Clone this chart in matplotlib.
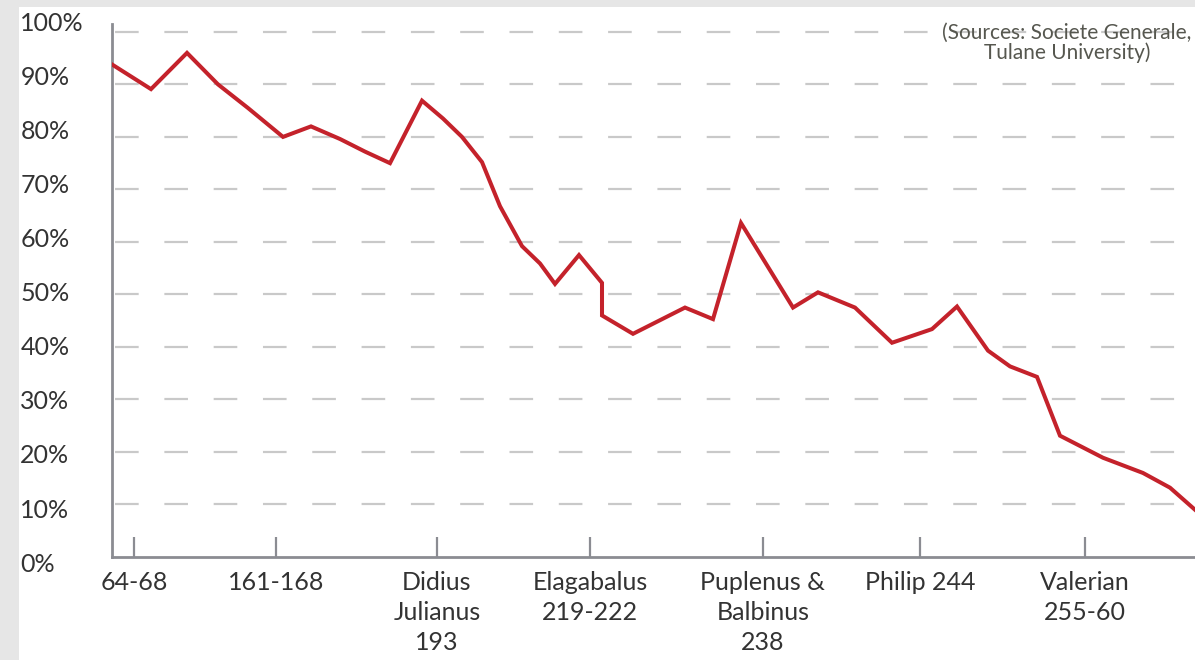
import matplotlib
matplotlib.use("Agg")
import matplotlib.pyplot as plt
from matplotlib.patches import Rectangle

plt.rcParams['font.family'] = ['Lato', 'DejaVu Sans']
plt.rcParams['lines.scale_dashes'] = False

# timeline position along the axis (arbitrary units) and silver content (%)
timeline = [0, 39, 75, 106, 136, 171, 199, 228, 253, 278, 310, 331, 350, 370, 388,
            410, 428, 443, 467, 490, 490, 521, 573, 601, 629, 681, 706, 743, 780,
            820, 845, 876, 898, 925, 948, 991, 1031, 1058, 1083]
silver_pct = [93.8, 89.1, 96.0, 90.0, 85.5, 80.0, 82.0, 79.6, 77.2, 75.0, 86.9, 83.5,
              80.0, 75.2, 66.8, 59.2, 55.9, 52.0, 57.5, 52.2, 46.0, 42.5, 47.5, 45.3,
              63.6, 47.5, 50.4, 47.5, 40.8, 43.4, 47.7, 39.3, 36.3, 34.3, 23.1, 18.9,
              16.0, 13.2, 9.0]

tick_pos = [22, 164, 325, 478, 651, 808, 973]
tick_labels = ["64-68", "161-168", "Didius\nJulianus\n193", "Elagabalus\n219-222",
               "Puplenus &\nBalbinus\n238", "Philip 244", "Valerian\n255-60"]
y_ticks = [0, 10, 20, 30, 40, 50, 60, 70, 80, 90, 100]
y_labels = [f"{v}%" for v in y_ticks]
source_text = "(Sources: Societe Generale,\nTulane University)"

W, H = 1195, 660
fig = plt.figure(figsize=(W / 100, H / 100), dpi=100, facecolor='#e6e6e6')
fig.patches.append(Rectangle((19 / W, 0), 1 - 19 / W, 1 - 7 / H, transform=fig.transFigure,
                             facecolor='white', edgecolor='none', zorder=-10))

ax = fig.add_axes([112 / W, (H - 557) / H, 1 - 112 / W, (557 - 24) / H])
ax.set_facecolor('none')
ax.set_xlim(0, 1083)
ax.set_ylim(0, 101.5)

# dashed grid
ax.set_yticks(y_ticks)
ax.set_yticklabels([])
ax.tick_params(axis='y', length=0)
for v in y_ticks[1:]:
    ax.axhline(v, color='#c9c9c9', lw=1.6, linestyle=(33.3, (17, 18.5)), zorder=1)

ax.plot(timeline, silver_pct, color='#c4222b', lw=2.9, solid_joinstyle='miter',
        zorder=3, clip_on=True)

for s in ['top', 'right']:
    ax.spines[s].set_visible(False)
for s in ['left', 'bottom']:
    ax.spines[s].set_color('#8b8c92')
    ax.spines[s].set_linewidth(2.0)

ax.set_xticks(tick_pos)
ax.set_xticklabels(tick_labels, linespacing=1.38)
ax.tick_params(axis='x', direction='in', length=14.5, width=1.6, color='#8b8c92',
               pad=10, labelsize=18, labelcolor='#333333')

# y-axis labels (spaced slightly wider than the grid, as in the original)
lab_ax = fig.add_axes([112 / W, (H - 562) / H, 0.01, (562 - 22) / H])
lab_ax.set_ylim(0, 100)
lab_ax.set_xticks([])
lab_ax.set_yticks(y_ticks)
lab_ax.set_yticklabels(y_labels)
lab_ax.axis('on')
lab_ax.set_facecolor('none')
for s in lab_ax.spines.values():
    s.set_visible(False)
lab_ax.tick_params(axis='y', length=0, pad=66, labelsize=18, labelcolor='#333333')
for lbl in lab_ax.get_yticklabels():
    lbl.set_horizontalalignment('left')

fig.text(1067 / W, 1 - 23 / H, source_text, ha='center', va='top', fontsize=15,
         color='#56574f', linespacing=0.98)

fig.savefig('out.png', dpi=100, facecolor=fig.get_facecolor())
